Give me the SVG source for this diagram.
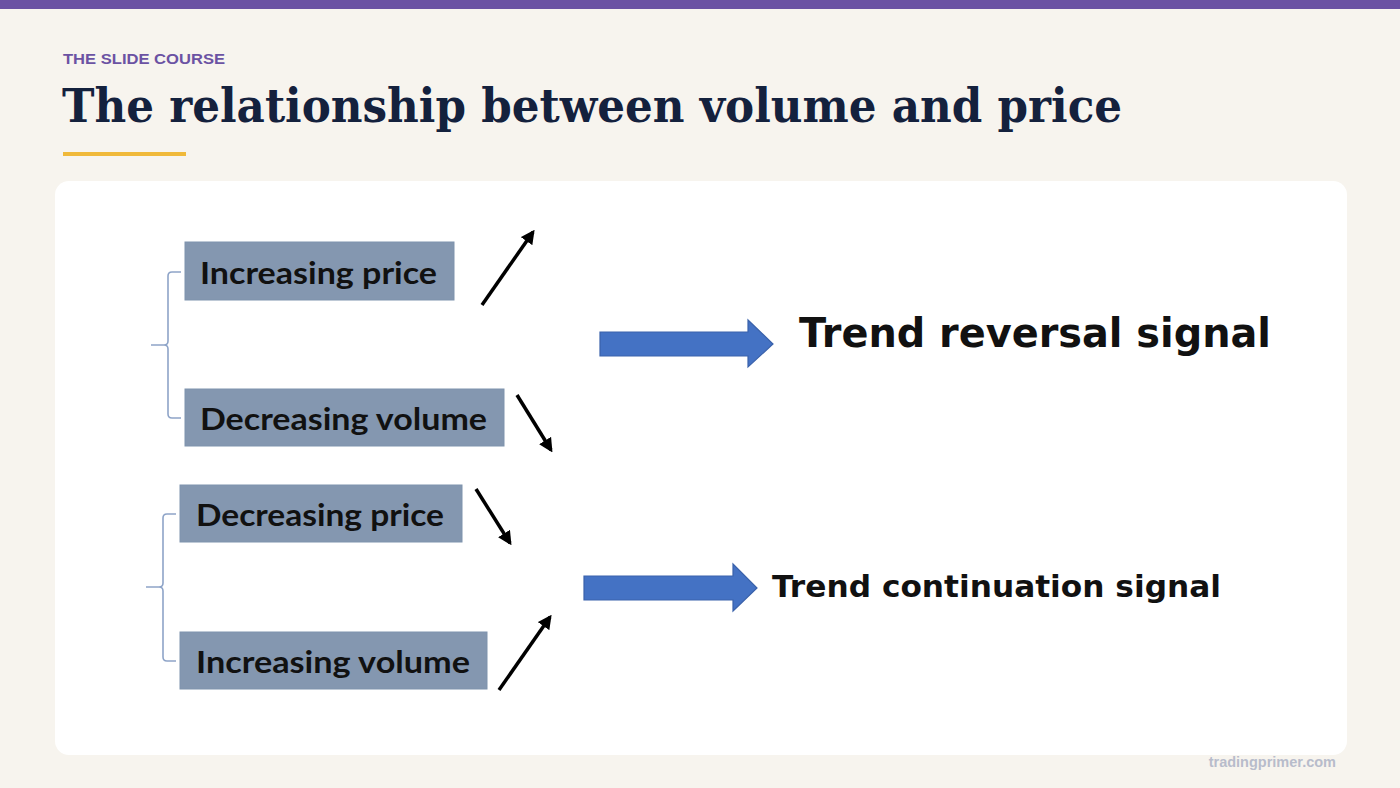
<svg xmlns="http://www.w3.org/2000/svg" width="1400" height="788" viewBox="0 0 1400 788">
<defs>
<style>
.box{fill:#8497b0;stroke:#7f93ad;stroke-width:1}
.boxtxt{font-family:Lato,"Open Sans",sans-serif;font-weight:bold;font-size:30px;fill:#111111}
.brace{fill:none;stroke:#8ea4c8;stroke-width:1.6}
.conn{stroke:#000000;stroke-width:3.5;fill:none;marker-end:url(#ah)}
.block{fill:#4472c4;stroke:#3a62ab;stroke-width:1.2}
.sig{font-family:"DejaVu Sans",sans-serif;font-weight:bold;fill:#111111}
</style>
<marker id="ah" viewBox="0 0 10 10" refX="8" refY="5" markerWidth="4" markerHeight="4" orient="auto" markerUnits="strokeWidth">
<path d="M0,0 L10,5 L0,10 z" fill="#000000"/>
</marker>
</defs>
<rect x="0" y="0" width="1400" height="788" fill="#f7f4ee"/>
<rect x="0" y="0" width="1400" height="9" fill="#6b52a3"/>
<text x="63" y="64" font-family="Liberation Sans, Arial, sans-serif" font-weight="bold" font-size="15.5" fill="#6b52a3" textLength="162" lengthAdjust="spacingAndGlyphs">THE SLIDE COURSE</text>
<text x="62" y="122" font-family="DejaVu Serif, serif" font-weight="bold" font-size="46" fill="#14213d" textLength="1060" lengthAdjust="spacingAndGlyphs">The relationship between volume and price</text>
<rect x="63" y="152" width="123" height="4" fill="#f0b93a"/>
<rect x="55" y="181" width="1292" height="574" rx="14" ry="14" fill="#ffffff"/>

<g id="brace1"><path class="brace" d="M181,272 L172,272 Q168,272 168,276 L168,341 Q168,345 164,345 L151,345 M164,345 Q168,345 168,349 L168,414 Q168,418 172,418 L181,418"/></g>
<g id="brace2"><path class="brace" d="M176,514 L167,514 Q163,514 163,518 L163,583 Q163,587 159,587 L146,587 M159,587 Q163,587 163,591 L163,657 Q163,661 167,661 L176,661"/></g>

<g id="node-increasing-price"><rect class="box" x="185" y="242" width="269" height="58"/><text class="boxtxt" x="200" y="284" textLength="237" lengthAdjust="spacingAndGlyphs">Increasing price</text></g>
<g id="node-decreasing-volume"><rect class="box" x="185" y="389" width="319" height="57"/><text class="boxtxt" x="200" y="430" textLength="287" lengthAdjust="spacingAndGlyphs">Decreasing volume</text></g>
<g id="node-decreasing-price"><rect class="box" x="180" y="485" width="282" height="57"/><text class="boxtxt" x="196" y="526" textLength="248" lengthAdjust="spacingAndGlyphs">Decreasing price</text></g>
<g id="node-increasing-volume"><rect class="box" x="180" y="632" width="307" height="57"/><text class="boxtxt" x="196" y="673" textLength="274" lengthAdjust="spacingAndGlyphs">Increasing volume</text></g>

<g id="connectors">
<line class="conn" x1="482" y1="305" x2="533" y2="232"/>
<line class="conn" x1="517" y1="395" x2="551" y2="450"/>
<line class="conn" x1="476" y1="489" x2="510" y2="543"/>
<line class="conn" x1="499" y1="690" x2="550" y2="617"/>
<path class="block" d="M600,332 L748,332 L748,320 L773,344 L748,367 L748,356 L600,356 Z"/>
<path class="block" d="M584,576 L733,576 L733,564 L757,588 L733,611 L733,600 L584,600 Z"/>
</g>

<g id="node-trend-reversal"><text class="sig" x="799" y="347" font-size="40" textLength="472" lengthAdjust="spacingAndGlyphs">Trend reversal signal</text></g>
<g id="node-trend-continuation"><text class="sig" x="772" y="597" font-size="31" textLength="449" lengthAdjust="spacingAndGlyphs">Trend continuation signal</text></g>

<text x="1336" y="767" text-anchor="end" font-family="Liberation Sans, Arial, sans-serif" font-weight="bold" font-size="14.5" fill="#b8bccb">tradingprimer.com</text>
</svg>
